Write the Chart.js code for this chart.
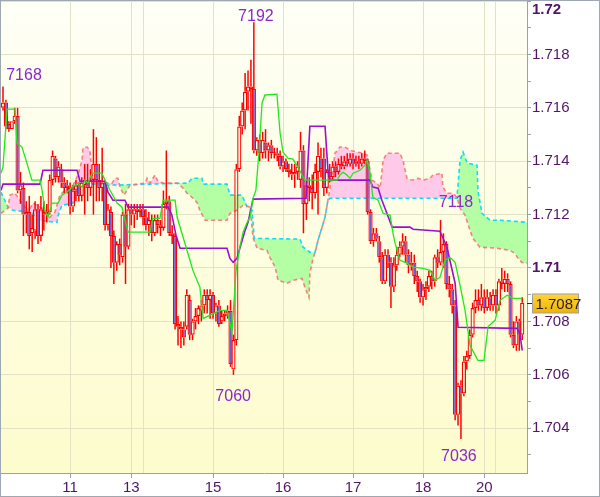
<!DOCTYPE html>
<html>
<head>
<meta charset="utf-8">
<script src="https://cdn.jsdelivr.net/npm/chart.js@4.4.1/dist/chart.umd.min.js"></script>
<style>
  html, body { margin: 0; padding: 0; background: #ffffff; }
  canvas { display: block; outline: 1px solid #9ea8b2; outline-offset: -1px; }
</style>
</head>
<body>
<canvas id="graficoIchimoku" width="600" height="497"></canvas>
<script>
// Velas horarias (indice de barra = hora)
const opens = [
  1.7160,1.7162,1.7154,1.7152,1.7155,1.7157,1.7129,1.7130,1.7120,1.7121,
  1.7113,1.7114,1.7122,1.7112,1.7121,1.7120,1.7121,1.7133,1.7141,1.7134,
  1.7137,1.7132,1.7130,1.7130,1.7123,1.7129,1.7131,1.7127,1.7131,1.7132,
  1.7130,1.7133,1.7139,1.7133,1.7130,1.7132,1.7116,1.7121,1.7112,1.7102,
  1.7109,1.7104,1.7120,1.7108,1.7122,1.7120,1.7122,1.7121,1.7122,1.7119,
  1.7116,1.7118,1.7113,1.7118,1.7116,1.7115,1.7124,1.7125,1.7113,1.7112,
  1.7079,1.7078,1.7077,1.7078,1.7088,1.7075,1.7080,1.7082,1.7084,1.7086,
  1.7090,1.7088,1.7090,1.7083,1.7086,1.7080,1.7082,1.7083,1.7084,1.7062,
  1.7073,1.7137,1.7153,1.7159,1.7166,1.7168,1.7167,1.7144,1.7148,1.7143,
  1.7147,1.7144,1.7146,1.7143,1.7143,1.7142,1.7138,1.7140,1.7137,1.7136,
  1.7135,1.7136,1.7133,1.7144,1.7124,1.7131,1.7130,1.7128,1.7136,1.7141,
  1.7141,1.7130,1.7136,1.7134,1.7138,1.7136,1.7139,1.7138,1.7140,1.7139,
  1.7141,1.7139,1.7140,1.7139,1.7141,1.7140,1.7121,1.7110,1.7113,1.7110,
  1.7104,1.7095,1.7105,1.7102,1.7093,1.7101,1.7105,1.7108,1.7110,1.7105,
  1.7101,1.7102,1.7097,1.7095,1.7089,1.7092,1.7093,1.7097,1.7095,1.7104,
  1.7102,1.7106,1.7109,1.7094,1.7092,1.7086,1.7045,1.7056,1.7053,1.7065,
  1.7067,1.7075,1.7085,1.7088,1.7086,1.7089,1.7085,1.7089,1.7086,1.7090,
  1.7086,1.7095,1.7094,1.7096,1.7094,1.7075,1.7071,1.7080,1.7075
];
const highs = [
  1.7168,1.7163,1.7155,1.7155,1.7160,1.7160,1.7136,1.7132,1.7125,1.7127,
  1.7120,1.7125,1.7124,1.7127,1.7125,1.7124,1.7135,1.7144,1.7142,1.7140,
  1.7139,1.7134,1.7133,1.7132,1.7131,1.7133,1.7132,1.7134,1.7139,1.7139,
  1.7137,1.7152,1.7149,1.7139,1.7145,1.7133,1.7124,1.7123,1.7114,1.7110,
  1.7111,1.7121,1.7124,1.7124,1.7124,1.7124,1.7124,1.7124,1.7124,1.7122,
  1.7121,1.7120,1.7120,1.7120,1.7118,1.7129,1.7144,1.7127,1.7116,1.7113,
  1.7082,1.7080,1.7080,1.7092,1.7090,1.7081,1.7085,1.7086,1.7088,1.7092,
  1.7092,1.7092,1.7091,1.7087,1.7088,1.7084,1.7084,1.7086,1.7088,1.7075,
  1.7139,1.7157,1.7162,1.7173,1.7174,1.7178,1.7192,1.7149,1.7150,1.7151,
  1.7152,1.7147,1.7148,1.7145,1.7145,1.7144,1.7142,1.7141,1.7139,1.7139,
  1.7139,1.7140,1.7151,1.7146,1.7133,1.7134,1.7135,1.7139,1.7147,1.7145,
  1.7145,1.7137,1.7139,1.7140,1.7140,1.7141,1.7142,1.7142,1.7143,1.7143,
  1.7143,1.7142,1.7142,1.7143,1.7144,1.7141,1.7122,1.7115,1.7115,1.7112,
  1.7106,1.7107,1.7107,1.7104,1.7104,1.7108,1.7110,1.7113,1.7112,1.7107,
  1.7106,1.7105,1.7099,1.7096,1.7094,1.7095,1.7099,1.7099,1.7105,1.7107,
  1.7118,1.7113,1.7110,1.7097,1.7094,1.7088,1.7057,1.7058,1.7067,1.7069,
  1.7077,1.7087,1.7092,1.7092,1.7094,1.7092,1.7092,1.7091,1.7092,1.7092,
  1.7096,1.7100,1.7099,1.7098,1.7095,1.7080,1.7082,1.7081,1.7089
];
const lows = [
  1.7159,1.7152,1.7151,1.7152,1.7154,1.7128,1.7124,1.7112,1.7113,1.7107,
  1.7106,1.7111,1.7109,1.7110,1.7114,1.7117,1.7120,1.7131,1.7132,1.7132,
  1.7130,1.7128,1.7128,1.7120,1.7121,1.7125,1.7125,1.7125,1.7120,1.7125,
  1.7127,1.7120,1.7125,1.7125,1.7125,1.7114,1.7114,1.7100,1.7094,1.7099,
  1.7101,1.7102,1.7094,1.7107,1.7116,1.7115,1.7118,1.7119,1.7116,1.7114,
  1.7112,1.7110,1.7112,1.7113,1.7112,1.7114,1.7122,1.7112,1.7109,1.7077,
  1.7071,1.7070,1.7071,1.7077,1.7073,1.7073,1.7077,1.7079,1.7080,1.7083,
  1.7083,1.7081,1.7081,1.7080,1.7078,1.7079,1.7080,1.7081,1.7063,1.7060,
  1.7071,1.7136,1.7150,1.7152,1.7159,1.7154,1.7143,1.7142,1.7140,1.7141,
  1.7141,1.7140,1.7141,1.7141,1.7140,1.7137,1.7136,1.7136,1.7134,1.7133,
  1.7130,1.7133,1.7130,1.7113,1.7118,1.7125,1.7122,1.7126,1.7120,1.7134,
  1.7127,1.7128,1.7132,1.7133,1.7134,1.7135,1.7137,1.7137,1.7138,1.7138,
  1.7137,1.7138,1.7137,1.7138,1.7139,1.7120,1.7109,1.7108,1.7110,1.7102,
  1.7094,1.7094,1.7100,1.7085,1.7091,1.7099,1.7104,1.7105,1.7102,1.7098,
  1.7099,1.7094,1.7091,1.7087,1.7086,1.7088,1.7091,1.7092,1.7093,1.7100,
  1.7101,1.7100,1.7092,1.7089,1.7083,1.7043,1.7041,1.7036,1.7052,1.7062,
  1.7066,1.7074,1.7083,1.7084,1.7084,1.7083,1.7084,1.7084,1.7084,1.7083,
  1.7084,1.7092,1.7091,1.7091,1.7074,1.7070,1.7069,1.7069,1.7073
];
const closes = [
  1.7162,1.7153,1.7152,1.7155,1.7157,1.7129,1.7131,1.7120,1.7121,1.7112,
  1.7115,1.7122,1.7112,1.7122,1.7120,1.7121,1.7133,1.7142,1.7134,1.7138,
  1.7132,1.7130,1.7131,1.7123,1.7129,1.7131,1.7127,1.7132,1.7133,1.7130,
  1.7133,1.7139,1.7133,1.7130,1.7132,1.7116,1.7122,1.7112,1.7102,1.7109,
  1.7105,1.7120,1.7108,1.7122,1.7120,1.7122,1.7121,1.7122,1.7119,1.7116,
  1.7118,1.7113,1.7118,1.7116,1.7115,1.7124,1.7125,1.7113,1.7112,1.7079,
  1.7078,1.7077,1.7074,1.7090,1.7075,1.7080,1.7082,1.7085,1.7086,1.7090,
  1.7088,1.7090,1.7083,1.7086,1.7079,1.7082,1.7083,1.7084,1.7064,1.7073,
  1.7137,1.7153,1.7159,1.7166,1.7168,1.7167,1.7144,1.7148,1.7143,1.7148,
  1.7144,1.7146,1.7143,1.7143,1.7142,1.7138,1.7140,1.7137,1.7136,1.7135,
  1.7136,1.7138,1.7144,1.7124,1.7131,1.7130,1.7128,1.7136,1.7142,1.7137,
  1.7130,1.7136,1.7134,1.7138,1.7136,1.7139,1.7138,1.7140,1.7139,1.7141,
  1.7139,1.7140,1.7139,1.7141,1.7140,1.7121,1.7110,1.7113,1.7111,1.7104,
  1.7095,1.7105,1.7102,1.7093,1.7101,1.7105,1.7108,1.7110,1.7105,1.7101,
  1.7102,1.7097,1.7095,1.7089,1.7092,1.7093,1.7097,1.7095,1.7104,1.7102,
  1.7106,1.7109,1.7094,1.7092,1.7086,1.7045,1.7056,1.7053,1.7065,1.7067,
  1.7075,1.7085,1.7088,1.7086,1.7089,1.7085,1.7089,1.7086,1.7090,1.7086,
  1.7095,1.7094,1.7096,1.7094,1.7075,1.7071,1.7080,1.7075,1.7087
];

// Lineas Ichimoku: [indice de barra, precio]
const tenkan = [
  [-0.7,1.71355],[0,1.71378],[1.4,1.71595],[4.1,1.71595],[4.8,1.71468],[6.5,1.71453],[8.2,1.71393],
  [9.9,1.71329],[12.7,1.71329],[13.4,1.71291],[14.4,1.71216],[15.4,1.7119],[16.8,1.71243],[18.9,1.71243],
  [20.2,1.71273],[21.9,1.71284],[23.7,1.71303],[25.7,1.71318],[27.1,1.71303],[28.1,1.71329],[29.1,1.71318],
  [30.5,1.71355],[33.9,1.71355],[35,1.71329],[36.7,1.71291],[39.1,1.71243],[40.8,1.71228],[41.8,1.71179],
  [42.9,1.71134],[50.4,1.71134],[51.4,1.71186],[53.8,1.71186],[54.9,1.71254],[59,1.71254],[59.7,1.7119],
  [64.1,1.71029],[65.1,1.70991],[67.5,1.70928],[68.6,1.70811],[74.4,1.70841],[76.8,1.70841],[77.8,1.70793],
  [78.5,1.70759],[79.9,1.70991],[81.3,1.71085],[82.3,1.71134],[83.7,1.71171],[84.7,1.7119],[85.7,1.71261],
  [86.7,1.71291],[87.8,1.71441],[88.8,1.71618],[89.8,1.71648],[93.9,1.71651],[95,1.71505],[96,1.71434],
  [97.7,1.71411],[99.4,1.71408],[101.1,1.71378],[102.9,1.7134],[103.5,1.71329],[114.5,1.71329],[115.5,1.71348],
  [116.6,1.71359],[117.9,1.71348],[119,1.71336],[120,1.71355],[122.4,1.71366],[124.1,1.71385],[124.8,1.71404],
  [125.8,1.71359],[126.8,1.71265],[128.6,1.71254],[130.3,1.71205],[132.7,1.71198],[133.7,1.7113],[134.4,1.71093],
  [136.1,1.71029],[138.5,1.71018],[140.6,1.71003],[144,1.70999],[146.4,1.70991],[148.1,1.70954],[149.8,1.70965],
  [151.5,1.71029],[153.2,1.7104],[155,1.71021],[156.7,1.70935],[158.4,1.70841],[160.1,1.7071],[162.8,1.70654],
  [164.9,1.70654],[166.3,1.70781],[168.7,1.70804],[170.4,1.70879],[172.8,1.70898],[174.8,1.70886],[178,1.70886]
];
const kijun = [
  [-0.7,1.71291],[0,1.71314],[12.7,1.71314],[13.7,1.71366],[25.4,1.71366],[26.4,1.71325],[35,1.71325],
  [36,1.71284],[37.7,1.71254],[41.8,1.71254],[42.9,1.71228],[56.6,1.71228],[57.9,1.71198],[59.3,1.71123],
  [60.7,1.71074],[76.8,1.71074],[77.8,1.71036],[78.9,1.71021],[80.2,1.71036],[81.3,1.71078],[83,1.71141],
  [84,1.71171],[84.7,1.71205],[85.7,1.71258],[103.9,1.71261],[105.2,1.71531],[110.4,1.71531],[111.4,1.71366],
  [112.1,1.71329],[125.8,1.71329],[126.8,1.71303],[128.6,1.71299],[129.9,1.71254],[131.6,1.71205],[133.4,1.71153],
  [139.5,1.71153],[140.6,1.71145],[149.8,1.71138],[152.2,1.71078],[153.2,1.71029],[155,1.70943],[156,1.70778],
  [176.2,1.70774],[177.2,1.70755],[178,1.70691]
];
const senkouA = [
  [-0.7,1.71284],[1.7,1.71228],[3.4,1.71216],[9.9,1.71209],[11.7,1.71179],[18.5,1.71171],[18.9,1.71198],
  [20.2,1.71235],[24,1.71243],[26.4,1.71318],[36.7,1.7131],[63.4,1.71318],[64.8,1.71336],[68.2,1.71336],
  [68.6,1.71314],[76.8,1.71314],[77.8,1.71273],[81.9,1.71273],[83.7,1.71228],[85.4,1.71216],[86.1,1.71111],
  [101.8,1.71108],[102.9,1.71078],[105.2,1.71059],[107,1.71059],[108,1.71104],[109.4,1.71153],[110.4,1.7119],
  [111.4,1.71254],[112.1,1.71261],[155.6,1.71261],[156.7,1.71404],[157.7,1.71434],[159.1,1.71393],[162.5,1.71385],
  [162.8,1.71291],[164.2,1.71205],[167,1.71179],[170.4,1.71179],[179.7,1.71171]
];
const senkouB = [
  [-0.7,1.71205],[1.7,1.71224],[2.4,1.71273],[4.1,1.7128],[7.5,1.71228],[9.3,1.71224],[10.3,1.71243],
  [13.4,1.71224],[15.1,1.71205],[16.1,1.7119],[17.8,1.71209],[19.5,1.71273],[21.3,1.71291],[23.7,1.71303],
  [25.7,1.71348],[27.1,1.71404],[27.4,1.71449],[28.8,1.71453],[29.8,1.71441],[30.5,1.71355],[31.5,1.71318],
  [37.4,1.71318],[38.4,1.71336],[39.4,1.71336],[40.1,1.71303],[41.5,1.71273],[42.5,1.71291],[43.5,1.7131],
  [48.7,1.71318],[49.4,1.71336],[50.4,1.71318],[51.4,1.71336],[52.1,1.71348],[53.1,1.71325],[54.9,1.71318],
  [59.7,1.71318],[61.4,1.71303],[63.1,1.7128],[64.8,1.71265],[66.5,1.71246],[67.5,1.71216],[69.3,1.71179],
  [76.8,1.71179],[77.8,1.71205],[80.2,1.71216],[82.3,1.71235],[84.7,1.71228],[85.7,1.71115],[87.1,1.71074],
  [90.5,1.71066],[91.5,1.7104],[93.3,1.71003],[94.3,1.70954],[97.4,1.70943],[99.4,1.70954],[102.5,1.70961],
  [103.5,1.70928],[104.9,1.7089],[105.2,1.7098],[106.3,1.71036],[107,1.71059],[108,1.71104],[109.4,1.71153],
  [110.4,1.7119],[111.4,1.71254],[113.1,1.71366],[113.8,1.7143],[115.5,1.71453],[117.2,1.71453],[119,1.71441],
  [121.4,1.71434],[123.4,1.7143],[124.8,1.71423],[126.5,1.71329],[128.2,1.71318],[129.3,1.71299],[130.3,1.71404],
  [131.6,1.7143],[136.1,1.7143],[137.1,1.71404],[138.5,1.71336],[140.2,1.71329],[142.3,1.71336],[144,1.71329],
  [146.4,1.71336],[147.4,1.71348],[150.5,1.71355],[150.8,1.71303],[152.2,1.7128],[154.3,1.7128],[155.6,1.71265],
  [156.7,1.71224],[158.4,1.71198],[160.1,1.71141],[161.1,1.71111],[163.5,1.71078],[169.4,1.71074],[173.8,1.71066],
  [175.5,1.71055],[176.6,1.71036],[177.9,1.71021],[179.7,1.71018]
];

// Eje de dias
const diasPos = [23, 44, 48, 72, 96, 120, 144, 165, 169];
const diasTxt = ['11', '13', '', '15', '16', '17', '18', '20', ''];

// Notas de maximos / minimos
const notasTxt = ['7168', '7192', '7060', '7036', '7118'];
const notasX = [7.2, 86.7, 78.9, 156.3, 155.3];
const notasY = [1.71719, 1.7194, 1.70519, 1.70294, 1.71246];

const fuente = "'Liberation Sans', Arial, sans-serif";
const colorTexto = '#521466';
const colorEje = '#98a2ad';
const colorGrid = '#e2e2c4';

const aPuntos = arr => arr.map(p => ({ x: p[0], y: p[1] }));

const cuerpos = opens.map((o, i) => ({ x: i, y: [o, closes[i]] }));
const mechaArriba = opens.map((o, i) => ({ x: i, y: [Math.max(o, closes[i]), highs[i]] }));
const mechaAbajo = opens.map((o, i) => ({ x: i, y: [lows[i], Math.min(o, closes[i])] }));
const colorCuerpo = opens.map((o, i) => closes[i] < o ? '#6e5ad2' : 'rgba(0,0,0,0)');

const fondo = {
  id: 'fondo',
  beforeDraw(chart) {
    const { ctx, chartArea: a } = chart;
    const g = ctx.createLinearGradient(0, a.top, 0, a.bottom);
    g.addColorStop(0, '#fefff6');
    g.addColorStop(1, '#fdfccd');
    ctx.save();
    ctx.fillStyle = g;
    ctx.fillRect(a.left, a.top, a.width, a.height);
    ctx.restore();
  }
};

const notas = {
  id: 'notas',
  afterDatasetsDraw(chart) {
    const { ctx, scales: { x, y } } = chart;
    ctx.save();
    ctx.font = '16px ' + fuente;
    ctx.fillStyle = '#8a28cc';
    ctx.textAlign = 'center';
    ctx.textBaseline = 'middle';
    notasTxt.forEach((t, i) => {
      ctx.fillText(t, x.getPixelForValue(notasX[i]), y.getPixelForValue(notasY[i]));
    });
    ctx.restore();
  }
};

const etiquetaPrecio = {
  id: 'etiquetaPrecio',
  afterDraw(chart) {
    const { ctx, scales: { y }, chartArea } = chart;
    const ultimo = closes[closes.length - 1];
    const py = Math.round(y.getPixelForValue(ultimo)) + 0.5;
    const x0 = chartArea.right;
    ctx.save();
    ctx.strokeStyle = '#4a1060';
    ctx.lineWidth = 1;
    ctx.beginPath();
    ctx.moveTo(x0, py);
    ctx.lineTo(x0 + 5, py);
    ctx.stroke();
    const bx = x0 + 5.5, bw = 46, bh = 19;
    const g = ctx.createLinearGradient(0, py - bh / 2, 0, py + bh / 2);
    g.addColorStop(0, '#ffd43a');
    g.addColorStop(1, '#eeb400');
    ctx.fillStyle = g;
    ctx.fillRect(bx, py - bh / 2, bw, bh);
    ctx.strokeStyle = '#a0a0a0';
    ctx.strokeRect(bx, py - bh / 2, bw, bh);
    ctx.fillStyle = '#2c1838';
    ctx.font = '15px ' + fuente;
    ctx.textBaseline = 'middle';
    ctx.fillText(ultimo.toFixed(4), bx + 3, py + 1);
    ctx.restore();
  }
};

const ctx = document.getElementById('graficoIchimoku').getContext('2d');

new Chart(ctx, {
  type: 'line',
  data: {
    datasets: [
      {
        // 0: Senkou B
        label: 'Senkou B',
        data: aPuntos(senkouB),
        borderColor: 'rgba(245,110,110,0.85)',
        borderWidth: 1.6,
        borderDash: [4, 3],
        pointRadius: 0,
        fill: false,
        clip: 0,
        order: 7
      },
      {
        // 1: Senkou A con nube
        label: 'Senkou A',
        data: aPuntos(senkouA),
        borderColor: '#10dcf5',
        borderWidth: 1.6,
        borderDash: [4, 3],
        pointRadius: 0,
        fill: { target: 0, above: '#b4ffa4', below: '#ffc9e9' },
        clip: 0,
        order: 8
      },
      {
        label: 'Kijun',
        data: aPuntos(kijun),
        borderColor: '#9a10d0',
        borderWidth: 1.6,
        pointRadius: 0,
        fill: false,
        clip: 0,
        order: 2
      },
      {
        label: 'Tenkan',
        data: aPuntos(tenkan),
        borderColor: '#22e622',
        borderWidth: 1.3,
        pointRadius: 0,
        fill: false,
        clip: 0,
        order: 1
      },
      {
        type: 'bar',
        label: 'mecha alta',
        data: mechaArriba,
        backgroundColor: '#ff0000',
        borderWidth: 0,
        barThickness: 1.5,
        stack: 'vela',
        inflateAmount: 0,
        clip: 0,
        order: 4
      },
      {
        type: 'bar',
        label: 'mecha baja',
        data: mechaAbajo,
        backgroundColor: '#ff0000',
        borderWidth: 0,
        barThickness: 1.5,
        stack: 'vela',
        inflateAmount: 0,
        clip: 0,
        order: 4
      },
      {
        type: 'bar',
        label: 'cuerpo',
        data: cuerpos,
        backgroundColor: colorCuerpo,
        borderColor: '#ff0000',
        borderWidth: 1.2,
        borderSkipped: false,
        barThickness: 4.2,
        minBarLength: 1,
        stack: 'vela',
        inflateAmount: 0,
        clip: 0,
        order: 3
      }
    ]
  },
  options: {
    responsive: false,
    animation: false,
    events: [],
    layout: { padding: { left: 1, top: 1, right: 0, bottom: 0 } },
    plugins: {
      legend: { display: false },
      tooltip: { enabled: false },
      title: { display: false }
    },
    scales: {
      x: {
        type: 'linear',
        min: -0.686,
        max: 179.64,
        offset: false,
        afterBuildTicks: (scale) => {
          scale.ticks = diasPos.map(v => ({ value: v }));
        },
        afterFit: (scale) => {
          scale.height = 24;
          scale.paddingLeft = 0;
          scale.paddingRight = 0;
        },
        grid: {
          offset: false,
          color: colorGrid,
          tickLength: 5,
          tickColor: (c) => diasTxt[c.index] ? colorEje : 'rgba(0,0,0,0)'
        },
        border: { color: colorEje },
        ticks: {
          autoSkip: false,
          maxRotation: 0,
          padding: 1,
          color: colorTexto,
          font: { family: fuente, size: 15 },
          callback: (v, i) => diasTxt[i]
        }
      },
      y: {
        type: 'linear',
        position: 'right',
        stacked: false,
        min: 1.702322,
        max: 1.72,
        afterFit: (scale) => {
          scale.width = 73;
          scale.paddingTop = 0;
          scale.paddingBottom = 0;
        },
        grid: {
          color: (c) => Math.round(c.tick.value * 1000) % 2 === 0 ? colorGrid : 'rgba(0,0,0,0)',
          tickLength: 4,
          tickColor: colorEje
        },
        border: { color: colorEje },
        ticks: {
          stepSize: 0.001,
          includeBounds: false,
          autoSkip: false,
          maxTicksLimit: 40,
          padding: 1,
          color: colorTexto,
          font: (c) => ({
            family: fuente,
            size: 15,
            weight: (c.tick && Math.round(c.tick.value * 1000) % 10 === 0) ? 'bold' : 'normal'
          }),
          callback: (v) => {
            const k = Math.round(v * 1000);
            if (k % 2 !== 0) return '';
            const txt = String(+(k / 1000).toFixed(3));
            return k === 1720 ? ['', txt] : txt;
          }
        }
      }
    }
  },
  plugins: [fondo, notas, etiquetaPrecio]
});
</script>
</body>
</html>
